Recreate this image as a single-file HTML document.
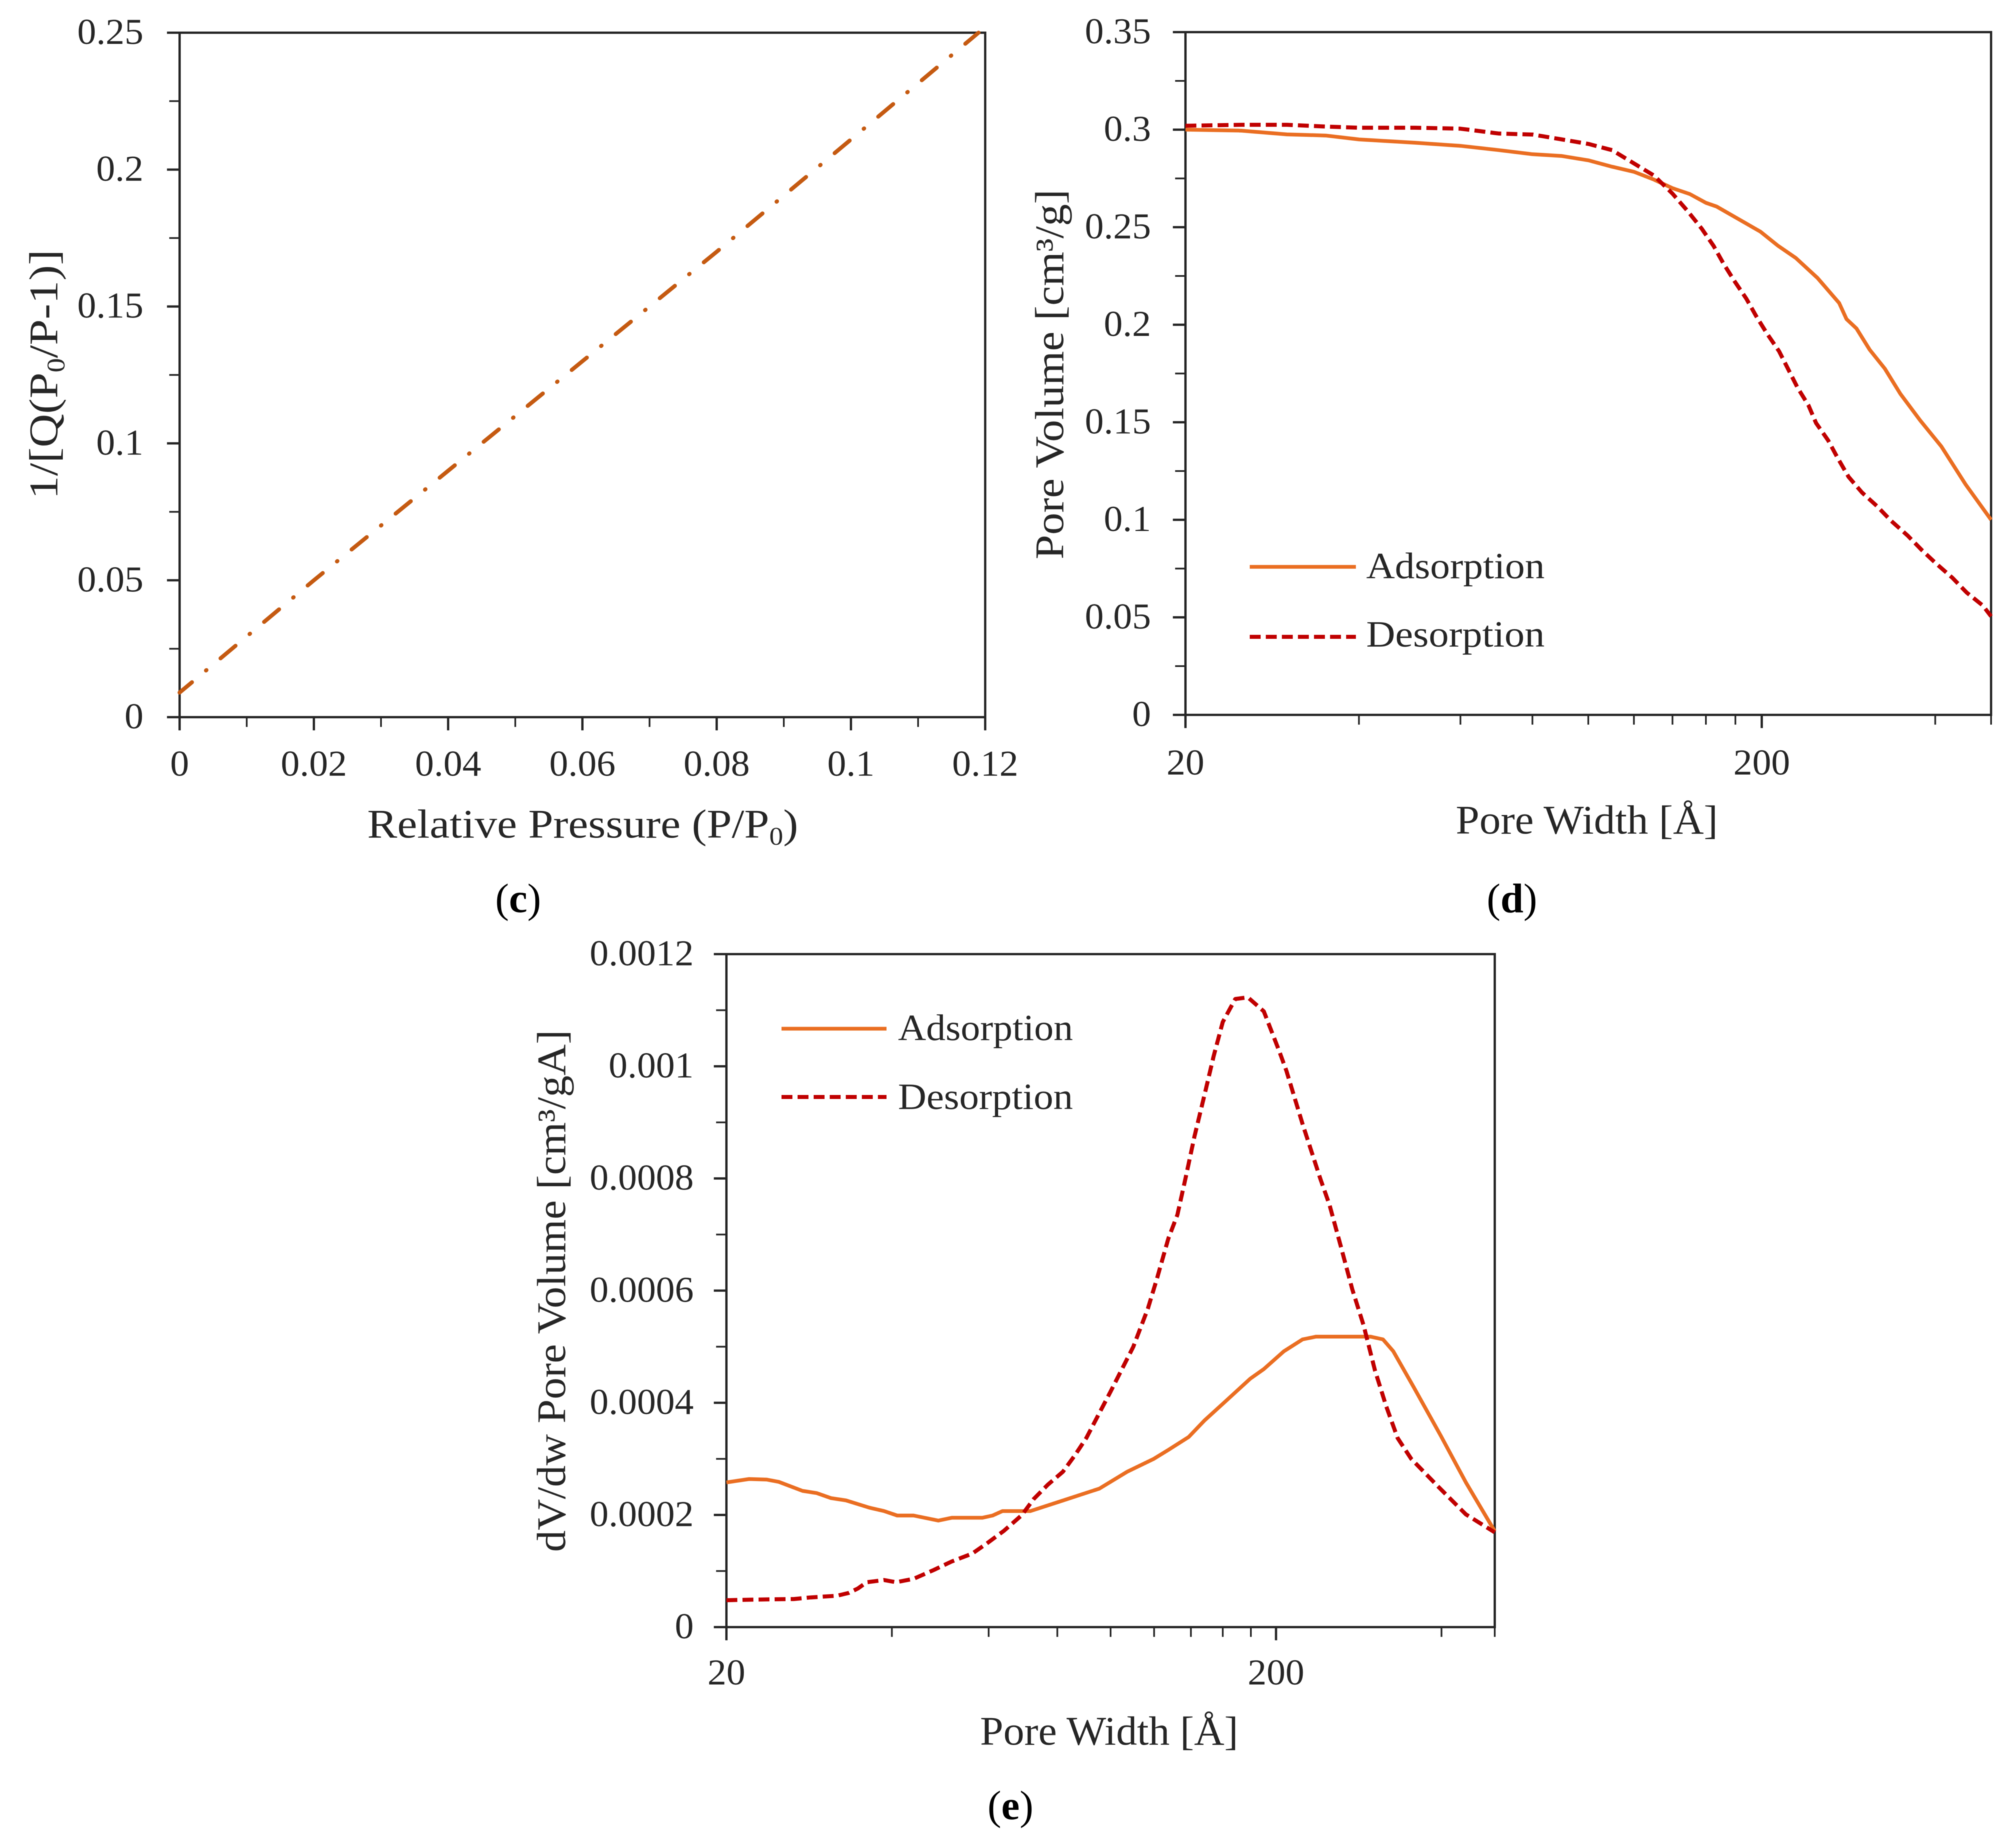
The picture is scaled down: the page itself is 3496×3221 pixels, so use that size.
<!DOCTYPE html>
<html lang="en">
<head>
<meta charset="utf-8">
<title>Pore analysis charts (c), (d), (e)</title>
<style>
html,body{margin:0;padding:0;background:#fff;width:3496px;height:3221px;overflow:hidden}
svg{display:block;filter:blur(0.8px)}
text{font-family:"Liberation Serif","DejaVu Serif",serif;fill:#262626}
.title{font-size:71px}
.sub{font-size:44px}
.legend{font-size:65px}
.panel{font-family:"Liberation Serif",serif;font-size:72px;fill:#000}
</style>
</head>
<body>
<svg id="figure" width="3496" height="3221" viewBox="0 0 3496 3221" xmlns="http://www.w3.org/2000/svg">
  <rect x="0" y="0" width="3496" height="3221" fill="#ffffff"/>

  <g id="chart-c"></g>
  <g id="chart-d"></g>
  <g id="chart-e"></g>

  <text class="title" x="640" y="1460" textLength="751" lengthAdjust="spacingAndGlyphs">Relative Pressure (P/P<tspan class="sub" dy="12">0</tspan><tspan dy="-12">)</tspan></text>
  <text class="title" transform="translate(100,870) rotate(-90)" x="0" y="0" textLength="435" lengthAdjust="spacingAndGlyphs">1/[Q(P<tspan class="sub" dy="12">0</tspan><tspan dy="-12">/P-1)]</tspan></text>
  <text class="panel" x="903" y="1590" text-anchor="middle">(<tspan font-weight="bold">c</tspan>)</text>

  <text class="title" x="2537" y="1453" textLength="457" lengthAdjust="spacingAndGlyphs">Pore Width [Å]</text>
  <text class="title" transform="translate(1853,975) rotate(-90)" x="0" y="0" textLength="645" lengthAdjust="spacingAndGlyphs">Pore Volume [cm³/g]</text>
  <text class="panel" x="2635" y="1590" text-anchor="middle">(<tspan font-weight="bold">d</tspan>)</text>

  <line x1="2178" y1="988" x2="2363" y2="988" stroke="#ea6e22" stroke-width="6.5"/>
  <text class="legend" x="2381" y="1008" textLength="311" lengthAdjust="spacingAndGlyphs">Adsorption</text>
  <line x1="2178" y1="1110" x2="2363" y2="1110" stroke="#c00000" stroke-width="7" stroke-dasharray="19 9"/>
  <text class="legend" x="2381" y="1127" textLength="311" lengthAdjust="spacingAndGlyphs">Desorption</text>

  <text class="title" x="1708" y="3041" textLength="450" lengthAdjust="spacingAndGlyphs">Pore Width [Å]</text>
  <text class="title" transform="translate(985,2705) rotate(-90)" x="0" y="0" textLength="910" lengthAdjust="spacingAndGlyphs">dV/dw Pore Volume [cm³/gA]</text>
  <text class="panel" x="1761" y="3171" text-anchor="middle">(<tspan font-weight="bold">e</tspan>)</text>

  <line x1="1362" y1="1793" x2="1545" y2="1793" stroke="#ea6e22" stroke-width="6.5"/>
  <text class="legend" x="1565" y="1813" textLength="305" lengthAdjust="spacingAndGlyphs">Adsorption</text>
  <line x1="1362" y1="1912" x2="1545" y2="1912" stroke="#c00000" stroke-width="7" stroke-dasharray="19 9"/>
  <text class="legend" x="1565" y="1933" textLength="305" lengthAdjust="spacingAndGlyphs">Desorption</text>
</svg>

<script>
// ---- Chart (c) data ----
const cXMajorTicks = [0, 0.02, 0.04, 0.06, 0.08, 0.1, 0.12];
const cXMinorTicks = [0.01, 0.03, 0.05, 0.07, 0.09, 0.11];
const cYMajorTicks = [0, 0.05, 0.1, 0.15, 0.2, 0.25];
const cYMinorTicks = [0.025, 0.075, 0.125, 0.175, 0.225];
const cPressure = [0, 0.02, 0.04, 0.06, 0.08, 0.1, 0.119];
const cBetValue = [0.009, 0.05, 0.09, 0.13, 0.17, 0.211, 0.25];

// ---- Chart (d) data ----
const dXMajorTicks = [20, 200];
const dXMinorTicks = [40, 60, 80, 100, 120, 140, 160, 180, 400, 500];
const dYMajorTicks = [0, 0.05, 0.1, 0.15, 0.2, 0.25, 0.3, 0.35];
const dYMinorTicks = [0.025, 0.075, 0.125, 0.175, 0.225, 0.275, 0.325];
const dAdsWidth = [20, 25, 30, 35, 40, 50, 60, 70, 80, 90, 100, 110, 120, 130, 140, 150, 160, 167, 199, 213.6, 229, 250, 272.5, 280.6, 292, 307.8, 327, 348, 376.5, 410, 451.7, 500];
const dAdsorption = [0.3, 0.2995, 0.2976, 0.297, 0.295, 0.2933, 0.2917, 0.2895, 0.2874, 0.2865, 0.2843, 0.281, 0.2784, 0.2744, 0.27, 0.267, 0.2625, 0.2606, 0.2477, 0.2404, 0.2343, 0.2239, 0.2111, 0.2029, 0.1981, 0.1872, 0.1775, 0.1646, 0.151, 0.1376, 0.1181, 0.1];
const dDesWidth = [20, 25, 30, 35, 40, 50, 60, 70, 80, 90, 100, 110, 120, 130, 140, 148.7, 157.3, 165, 171.6, 179.3, 188.1, 195.6, 204.3, 214.3, 222, 230.8, 241, 248.5, 260.8, 271, 283, 298.5, 317, 335.5, 358, 379.3, 400.9, 428.6, 453.6, 484, 500];
const dDesorption = [0.302, 0.3025, 0.3025, 0.3016, 0.301, 0.301, 0.3005, 0.298, 0.2975, 0.295, 0.2927, 0.2895, 0.2827, 0.2765, 0.2672, 0.2583, 0.2493, 0.2404, 0.2314, 0.2224, 0.2133, 0.2044, 0.1954, 0.1864, 0.1775, 0.1677, 0.1587, 0.1496, 0.1407, 0.1316, 0.122, 0.114, 0.107, 0.0994, 0.092, 0.0844, 0.0777, 0.0702, 0.0627, 0.056, 0.0505];

// ---- Chart (e) data ----
const eXMajorTicks = [20, 200];
const eXMinorTicks = [40, 60, 80, 100, 120, 140, 160, 180, 400, 500];
const eYMajorTicks = [0, 0.0002, 0.0004, 0.0006, 0.0008, 0.001, 0.0012];
const eYMinorTicks = [0.0001, 0.0003, 0.0005, 0.0007, 0.0009, 0.0011];
const eAdsWidth = [20, 22, 23.7, 24.9, 27.5, 29.2, 31, 33, 36.4, 38.7, 40.9, 43.8, 48.6, 51.4, 58.4, 61, 63.6, 71.5, 80.9, 95.4, 107.2, 119.8, 127.4, 138.7, 148.4, 161.6, 179.5, 190, 206.8, 223.5, 236.5, 297, 313, 326.8, 356, 399, 443, 500];
const eAdsorption = [0.000258, 0.000264, 0.000263, 0.000259, 0.000243, 0.000239, 0.00023, 0.000226, 0.000213, 0.000207, 0.000199, 0.000199, 0.00019, 0.000195, 0.000195, 0.000199, 0.000207, 0.000207, 0.000224, 0.000247, 0.000277, 0.0003, 0.000316, 0.000339, 0.000369, 0.000402, 0.000443, 0.00046, 0.000492, 0.000513, 0.000518, 0.000518, 0.000513, 0.000492, 0.000428, 0.000341, 0.000258, 0.000171];
const eDesWidth = [20, 22.3, 26.5, 28.5, 31.8, 33.4, 34.7, 36, 38.7, 40.7, 43.8, 47.7, 51.4, 56, 59.5, 64, 69, 72.4, 76.9, 81.9, 85.9, 90.3, 100, 110, 116.9, 121.4, 127.4, 132.3, 136.8, 142.1, 148.3, 154, 160, 168.6, 177.7, 190, 202.9, 208.9, 223.5, 240.9, 250.2, 262.5, 275.3, 288.7, 302.7, 317.3, 332.9, 352.4, 395, 443, 500];
const eDesorption = [0.000048, 0.000049, 0.00005, 0.000053, 0.000056, 0.000061, 0.000069, 0.00008, 0.000084, 0.00008, 0.000086, 0.000102, 0.000117, 0.000131, 0.000149, 0.000172, 0.0002, 0.000228, 0.000254, 0.000277, 0.000305, 0.000337, 0.00042, 0.0005, 0.000568, 0.000621, 0.000693, 0.000735, 0.000799, 0.000875, 0.00095, 0.001018, 0.001079, 0.00112, 0.001123, 0.001098, 0.001026, 0.000992, 0.000897, 0.000799, 0.000753, 0.000678, 0.000602, 0.000538, 0.000458, 0.000394, 0.000337, 0.0003, 0.00025, 0.000201, 0.000169];

const SVG_NS = 'http://www.w3.org/2000/svg';
const AXIS_COLOR = '#262626';
const TICK_WIDEN = 1.03;

function make(tag, parent, attrs) {
  const el = document.createElementNS(SVG_NS, tag);
  for (const k in attrs) el.setAttribute(k, attrs[k]);
  parent.appendChild(el);
  return el;
}

function linearScale(min, max, a, b) {
  return v => a + (v - min) / (max - min) * (b - a);
}
function logScale(min, max, a, b) {
  return v => a + (Math.log10(v) - Math.log10(min)) / (Math.log10(max) - Math.log10(min)) * (b - a);
}

function widenText(t) {
  t.setAttribute('textLength', (t.getComputedTextLength() * TICK_WIDEN).toFixed(1));
  t.setAttribute('lengthAdjust', 'spacingAndGlyphs');
}

function drawAxes(g, box, xs, ys, spec) {
  const frame = make('rect', g, {x: box.left, y: box.top, width: box.right - box.left, height: box.bottom - box.top, fill: 'none', stroke: AXIS_COLOR, 'stroke-width': 4});
  
  

  spec.xMajor.forEach(v => {
    const x = xs(v);
    const tick = make('line', g, {x1: x, x2: x, y1: box.bottom, y2: box.bottom + 23, stroke: AXIS_COLOR, 'stroke-width': 4});
    
    
    const label = make('text', g, {x: x, y: spec.xLabelY, 'text-anchor': 'middle', 'font-size': 64});
    label.textContent = String(v);
    
    
    widenText(label);
  });
  spec.xMinor.forEach(v => {
    const x = xs(v);
    const tick = make('line', g, {x1: x, x2: x, y1: box.bottom, y2: box.bottom + 17, stroke: AXIS_COLOR, 'stroke-width': 3});
    
    
  });
  spec.yMajor.forEach(v => {
    const y = ys(v);
    const tick = make('line', g, {x1: box.left - 22, x2: box.left, y1: y, y2: y, stroke: AXIS_COLOR, 'stroke-width': 4});
    
    
    const label = make('text', g, {x: spec.yLabelX, y: y + 19.5, 'text-anchor': 'end', 'font-size': 64});
    label.textContent = String(v);
    
    
    widenText(label);
  });
  spec.yMinor.forEach(v => {
    const y = ys(v);
    const tick = make('line', g, {x1: box.left - 18, x2: box.left, y1: y, y2: y, stroke: AXIS_COLOR, 'stroke-width': 3});
    
    
  });
}

function pointsOf(xValues, yValues, xs, ys) {
  return xValues.map((v, i) => xs(v).toFixed(1) + ',' + ys(yValues[i]).toFixed(1)).join(' ');
}

// Chart c
(function () {
  const g = document.getElementById('chart-c');
  const box = {left: 313, right: 1717, top: 57, bottom: 1250};
  const xs = linearScale(0, 0.12, box.left, box.right);
  const ys = linearScale(0, 0.25, box.bottom, box.top);
  drawAxes(g, box, xs, ys, {xMajor: cXMajorTicks, xMinor: cXMinorTicks, yMajor: cYMajorTicks, yMinor: cYMinorTicks, xLabelY: 1352, yLabelX: 250});
  const line = make('polyline', g, {points: pointsOf(cPressure, cBetValue, xs, ys), fill: 'none', stroke: '#c55a11', 'stroke-width': 7, 'stroke-linecap': 'round', 'stroke-linejoin': 'round', 'stroke-dasharray': '34 32 1 32', 'stroke-dashoffset': '6'});
  
  
})();

// Chart d
(function () {
  const g = document.getElementById('chart-d');
  const box = {left: 2066, right: 3470, top: 56, bottom: 1246};
  const xs = logScale(20, 500, box.left, box.right);
  const ys = linearScale(0, 0.35, box.bottom, box.top);
  drawAxes(g, box, xs, ys, {xMajor: dXMajorTicks, xMinor: dXMinorTicks, yMajor: dYMajorTicks, yMinor: dYMinorTicks, xLabelY: 1350, yLabelX: 2006});
  const ads = make('polyline', g, {points: pointsOf(dAdsWidth, dAdsorption, xs, ys), fill: 'none', stroke: '#ea6e22', 'stroke-width': 6.5, 'stroke-linejoin': 'round'});
  
  
  const des = make('polyline', g, {points: pointsOf(dDesWidth, dDesorption, xs, ys), fill: 'none', stroke: '#c00000', 'stroke-width': 7, 'stroke-dasharray': '19 9', 'stroke-linejoin': 'round'});
  
  
})();

// Chart e
(function () {
  const g = document.getElementById('chart-e');
  const box = {left: 1266, right: 2605, top: 1663, bottom: 2836};
  const xs = logScale(20, 500, box.left, box.right);
  const ys = linearScale(0, 0.0012, box.bottom, box.top);
  drawAxes(g, box, xs, ys, {xMajor: eXMajorTicks, xMinor: eXMinorTicks, yMajor: eYMajorTicks, yMinor: eYMinorTicks, xLabelY: 2936, yLabelX: 1209});
  const ads = make('polyline', g, {points: pointsOf(eAdsWidth, eAdsorption, xs, ys), fill: 'none', stroke: '#ea6e22', 'stroke-width': 6.5, 'stroke-linejoin': 'round'});
  
  
  const des = make('polyline', g, {points: pointsOf(eDesWidth, eDesorption, xs, ys), fill: 'none', stroke: '#c00000', 'stroke-width': 7, 'stroke-dasharray': '19 9', 'stroke-linejoin': 'round'});
  
  
})();
</script>
</body>
</html>
